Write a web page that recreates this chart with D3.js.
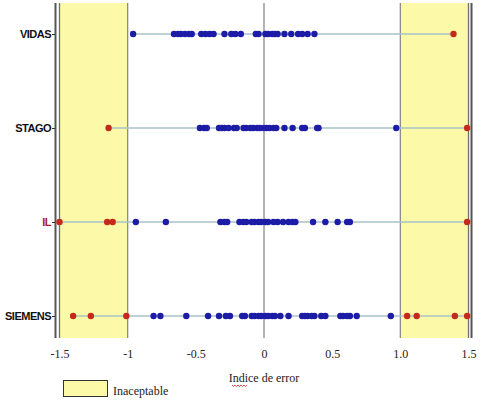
<!DOCTYPE html>
<html>
<head>
<meta charset="utf-8">
<script src="https://cdn.jsdelivr.net/npm/d3@7"></script>
<style>
  body { margin: 0; background: #fff; }
  svg { display: block; }
</style>
</head>
<body>
<svg id="chart" width="486" height="401"></svg>
<script>
// categorias (de arriba a abajo)
var equipos = ["VIDAS", "STAGO", "IL", "SIEMENS"];

// indice de error, puntos aceptables (azul)
var vidasOk = [-0.96, -0.66, -0.63, -0.61, -0.58, -0.55, -0.53, -0.46, -0.43, -0.40, -0.37,
  -0.29, -0.24, -0.21, -0.17, -0.06, -0.04, 0.01, 0.03, 0.06, 0.08, 0.10, 0.15, 0.20,
  0.25, 0.28, 0.32, 0.37];
var stagoOk = [-0.47, -0.44, -0.42, -0.33, -0.31, -0.29, -0.26, -0.22, -0.20, -0.15, -0.13,
  -0.10, -0.08, -0.05, -0.03, 0.00, 0.02, 0.04, 0.07, 0.09, 0.15, 0.21, 0.28, 0.30,
  0.39, 0.40, 0.97];
var ilOk = [-0.94, -0.72, -0.32, -0.29, -0.27, -0.18, -0.15, -0.13, -0.09, -0.07, -0.04,
  -0.02, 0.01, 0.03, 0.07, 0.10, 0.14, 0.18, 0.21, 0.23, 0.36, 0.45, 0.54, 0.61, 0.63];
var siemensOk = [-0.81, -0.76, -0.57, -0.41, -0.33, -0.28, -0.25, -0.16, -0.14, -0.09, -0.07,
  -0.04, -0.02, 0.01, 0.03, 0.06, 0.08, 0.12, 0.18, 0.28, 0.30, 0.32, 0.35, 0.37, 0.42,
  0.45, 0.56, 0.58, 0.61, 0.63, 0.68, 0.93];

// puntos inaceptables (rojo)
var vidasMal = [1.39];
var stagoMal = [-1.14, 1.49];
var ilMal = [-1.50, -1.15, -1.11, 1.49];
var siemensMal = [-1.40, -1.27, -1.01, 1.05, 1.12, 1.40, 1.49];

var ticks = [-1.5, -1, -0.5, 0, 0.5, 1, 1.5];
var tickLabels = ["-1.5", "-1", "-0.5", "0", "0.5", "1.0", "1.5"];

var filas = [
  {eq: "VIDAS", ok: vidasOk, mal: vidasMal},
  {eq: "STAGO", ok: stagoOk, mal: stagoMal},
  {eq: "IL", ok: ilOk, mal: ilMal},
  {eq: "SIEMENS", ok: siemensOk, mal: siemensMal}
];

var svg = d3.select("#chart");
var arriba = 3, abajo = 338;

var x = d3.scaleLinear().domain([-1.5, 1.5]).range([59.5, 468.5]);
var y = d3.scalePoint().domain(equipos).range([34, 316]);

// zonas inaceptables
svg.selectAll("rect.zona")
  .data([[-1.5, -1], [1, 1.5]])
  .enter()
  .append("rect")
  .attr("class", "zona")
  .attr("x", function(d) { return x(d[0]); })
  .attr("y", arriba)
  .attr("width", function(d) { return x(d[1]) - x(d[0]); })
  .attr("height", abajo - arriba)
  .style("fill", "#fcf9a8");

// lineas verticales
svg.selectAll("line.v")
  .data([-1, 0, 1])
  .enter()
  .append("line")
  .attr("x1", function(d) { return x(d); })
  .attr("x2", function(d) { return x(d); })
  .attr("y1", arriba)
  .attr("y2", abajo)
  .style("stroke", "#8a8a8a")
  .style("stroke-width", "1.3px");

svg.selectAll("line.borde")
  .data([-1.5, 1.5])
  .enter()
  .append("line")
  .attr("x1", function(d) { return x(d); })
  .attr("x2", function(d) { return x(d); })
  .attr("y1", arriba)
  .attr("y2", abajo)
  .style("stroke", "#6f6f6f")
  .style("stroke-width", "1.3px");

// eje izquierdo y derecho
svg.append("line")
  .attr("x1", 55.5).attr("x2", 55.5)
  .attr("y1", arriba).attr("y2", abajo)
  .style("stroke", "#555")
  .style("stroke-width", "2px");
svg.append("line")
  .attr("x1", 471.5).attr("x2", 471.5)
  .attr("y1", arriba).attr("y2", abajo)
  .style("stroke", "#555")
  .style("stroke-width", "2px");

// linea de cada fila
svg.selectAll("line.fila")
  .data(filas)
  .enter()
  .append("line")
  .attr("x1", function(d) { return x(d3.min(d.ok.concat(d.mal))); })
  .attr("x2", function(d) { return x(d3.max(d.ok.concat(d.mal))); })
  .attr("y1", function(d) { return y(d.eq); })
  .attr("y2", function(d) { return y(d.eq); })
  .style("stroke", "#a9c2c8")
  .style("stroke-width", "1.3px");

// puntos
filas.forEach(function(f) {
  svg.append("g")
    .selectAll("circle")
    .data(f.ok)
    .enter()
    .append("circle")
    .attr("cx", function(d) { return x(d); })
    .attr("cy", y(f.eq))
    .attr("r", 3.2)
    .style("fill", "#1c1ca6");
  svg.append("g")
    .selectAll("circle")
    .data(f.mal)
    .enter()
    .append("circle")
    .attr("cx", function(d) { return x(d); })
    .attr("cy", y(f.eq))
    .attr("r", 3.2)
    .style("fill", "#c42a1a");
});

// etiquetas de categoria
var ejeY = svg.append("g")
  .attr("transform", "translate(55,0)")
  .call(d3.axisLeft(y).tickSize(3).tickPadding(1));
ejeY.select(".domain").remove();
ejeY.selectAll("line").style("stroke", "#333");
ejeY.selectAll("text")
  .style("font-family", "Liberation Sans, Arial, sans-serif")
  .style("font-size", "11px")
  .style("font-weight", "bold")
  .style("letter-spacing", "-0.5px")
  .style("fill", function(d) { return d == "IL" ? "#a82424" : "#111"; });

// eje x
var ejeX = svg.append("g")
  .attr("transform", "translate(0," + abajo + ")")
  .call(d3.axisBottom(x).tickValues(ticks).tickSize(0).tickPadding(11)
    .tickFormat(function(d, i) { return tickLabels[i]; }));
ejeX.select(".domain").remove();
ejeX.selectAll("text")
  .style("font-family", "Liberation Serif, Times New Roman, serif")
  .style("font-size", "12px")
  .style("fill", "#222");

svg.append("text")
  .attr("x", 264)
  .attr("y", 382)
  .attr("text-anchor", "middle")
  .style("font-family", "Liberation Serif, Times New Roman, serif")
  .style("font-size", "12px")
  .style("fill", "#222")
  .text("Indice de error");

// subrayado ondulado rojo bajo "Indice"
var onda = "M232,385";
for (var k = 0; k < 10; k++) {
  onda += " l1.5," + (k % 2 ? -1.5 : 1.5);
}
svg.append("path")
  .attr("d", onda)
  .style("fill", "none")
  .style("stroke", "#d02020")
  .style("stroke-width", "0.8px");

// leyenda
svg.append("rect")
  .attr("x", 63.5)
  .attr("y", 380.5)
  .attr("width", 44)
  .attr("height", 16)
  .style("fill", "#fcf9a8")
  .style("stroke", "#333")
  .style("stroke-width", "1px");
svg.append("text")
  .attr("x", 113)
  .attr("y", 395)
  .style("font-family", "Liberation Serif, Times New Roman, serif")
  .style("font-size", "12px")
  .style("fill", "#222")
  .text("Inaceptable");
</script>
</body>
</html>
